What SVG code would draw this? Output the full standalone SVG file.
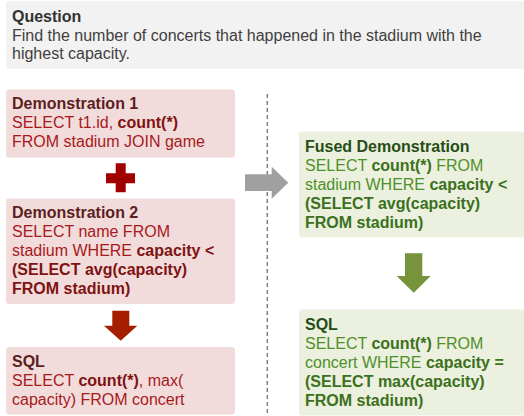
<svg xmlns="http://www.w3.org/2000/svg" width="524" height="416" viewBox="0 0 524 416">
<style>
text{font-family:"Liberation Sans",Arial,sans-serif;font-size:16px}
.b{font-weight:bold}
.q{fill:#404040}
.qt{fill:#333333;font-weight:bold}
.red{fill:#f2dcdb}
.rt{fill:#5c1e1e;font-weight:bold}
.rb{fill:#a8191c}
.rbb{fill:#7f1212;font-weight:bold}
.grn{fill:#ebf1de}
.gt{fill:#264d16;font-weight:bold}
.gb{fill:#4f8f2b}
.gbb{fill:#3b7020;font-weight:bold}
</style>
<g id="question">
<rect x="6" y="1" width="530" height="68" rx="3" fill="#f2f2f2"/>
<text x="12" y="22" class="qt">Question</text>
<text x="12" y="40.5" class="q">Find the number of concerts that happened in the stadium with the</text>
<text x="12" y="58.5" class="q">highest capacity.</text>
</g>
<g id="demo1">
<rect x="6" y="89.5" width="229" height="68" rx="3" class="red"/>
<text x="12" y="109" class="rt">Demonstration 1</text>
<text x="12" y="128" class="rb">SELECT t1.id, <tspan class="rbb">count(*)</tspan></text>
<text x="12" y="147" class="rb">FROM stadium JOIN game</text>
</g>
<g id="demo2">
<rect x="6" y="198.5" width="229" height="105.5" rx="3" class="red"/>
<text x="12" y="218" class="rt">Demonstration 2</text>
<text x="12" y="237" class="rb">SELECT name FROM</text>
<text x="12" y="256" class="rb">stadium WHERE <tspan class="rbb">capacity &lt;</tspan></text>
<text x="12" y="275" class="rbb">(SELECT avg(capacity)</text>
<text x="12" y="294" class="rbb">FROM stadium)</text>
</g>
<g id="sql1">
<rect x="6" y="347" width="229" height="67.5" rx="3" class="red"/>
<text x="12" y="367" class="rt">SQL</text>
<text x="12" y="386" class="rb">SELECT <tspan class="rbb">count(*)</tspan>, max(</text>
<text x="12" y="405" class="rb">capacity) FROM concert</text>
</g>
<g id="fused">
<rect x="299" y="131.5" width="240" height="106" rx="3" class="grn"/>
<text x="305" y="152" class="gt">Fused Demonstration</text>
<text x="305" y="171" class="gb">SELECT <tspan class="gbb">count(*)</tspan> FROM</text>
<text x="305" y="190" class="gb">stadium WHERE <tspan class="gbb">capacity &lt;</tspan></text>
<text x="305" y="209" class="gbb">(SELECT avg(capacity)</text>
<text x="305" y="228" class="gbb">FROM stadium)</text>
</g>
<g id="sql2">
<rect x="299" y="309.5" width="240" height="106" rx="3" class="grn"/>
<text x="305" y="329.5" class="gt">SQL</text>
<text x="305" y="348.5" class="gb">SELECT <tspan class="gbb">count(*)</tspan> FROM</text>
<text x="305" y="367.5" class="gb">concert WHERE <tspan class="gbb">capacity =</tspan></text>
<text x="305" y="386.5" class="gbb">(SELECT max(capacity)</text>
<text x="305" y="405.5" class="gbb">FROM stadium)</text>
</g>
<g id="connectors">
<line x1="267.3" y1="94" x2="267.3" y2="416" stroke="#7f7f7f" stroke-width="1.5" stroke-dasharray="4,3"/>
<path d="M106,173.3 H115.7 V163.3 H125.7 V173.3 H135 V183.3 H125.7 V192.3 H115.7 V183.3 H106 Z" fill="#a00000"/>
<path d="M112.3,310.7 H129.3 V325.7 H137.3 L120.7,340.7 L104,325.7 H112.3 Z" fill="#a61e00"/>
<path d="M245,174.3 H271.7 V166.7 L288.3,182.7 L271.7,198.7 V191 H245 Z" fill="#a0a0a0"/>
<path d="M405,253.3 H422.3 V276 H430.7 L413.7,292.7 L396.7,276 H405 Z" fill="#77933c"/>
</g>
</svg>
